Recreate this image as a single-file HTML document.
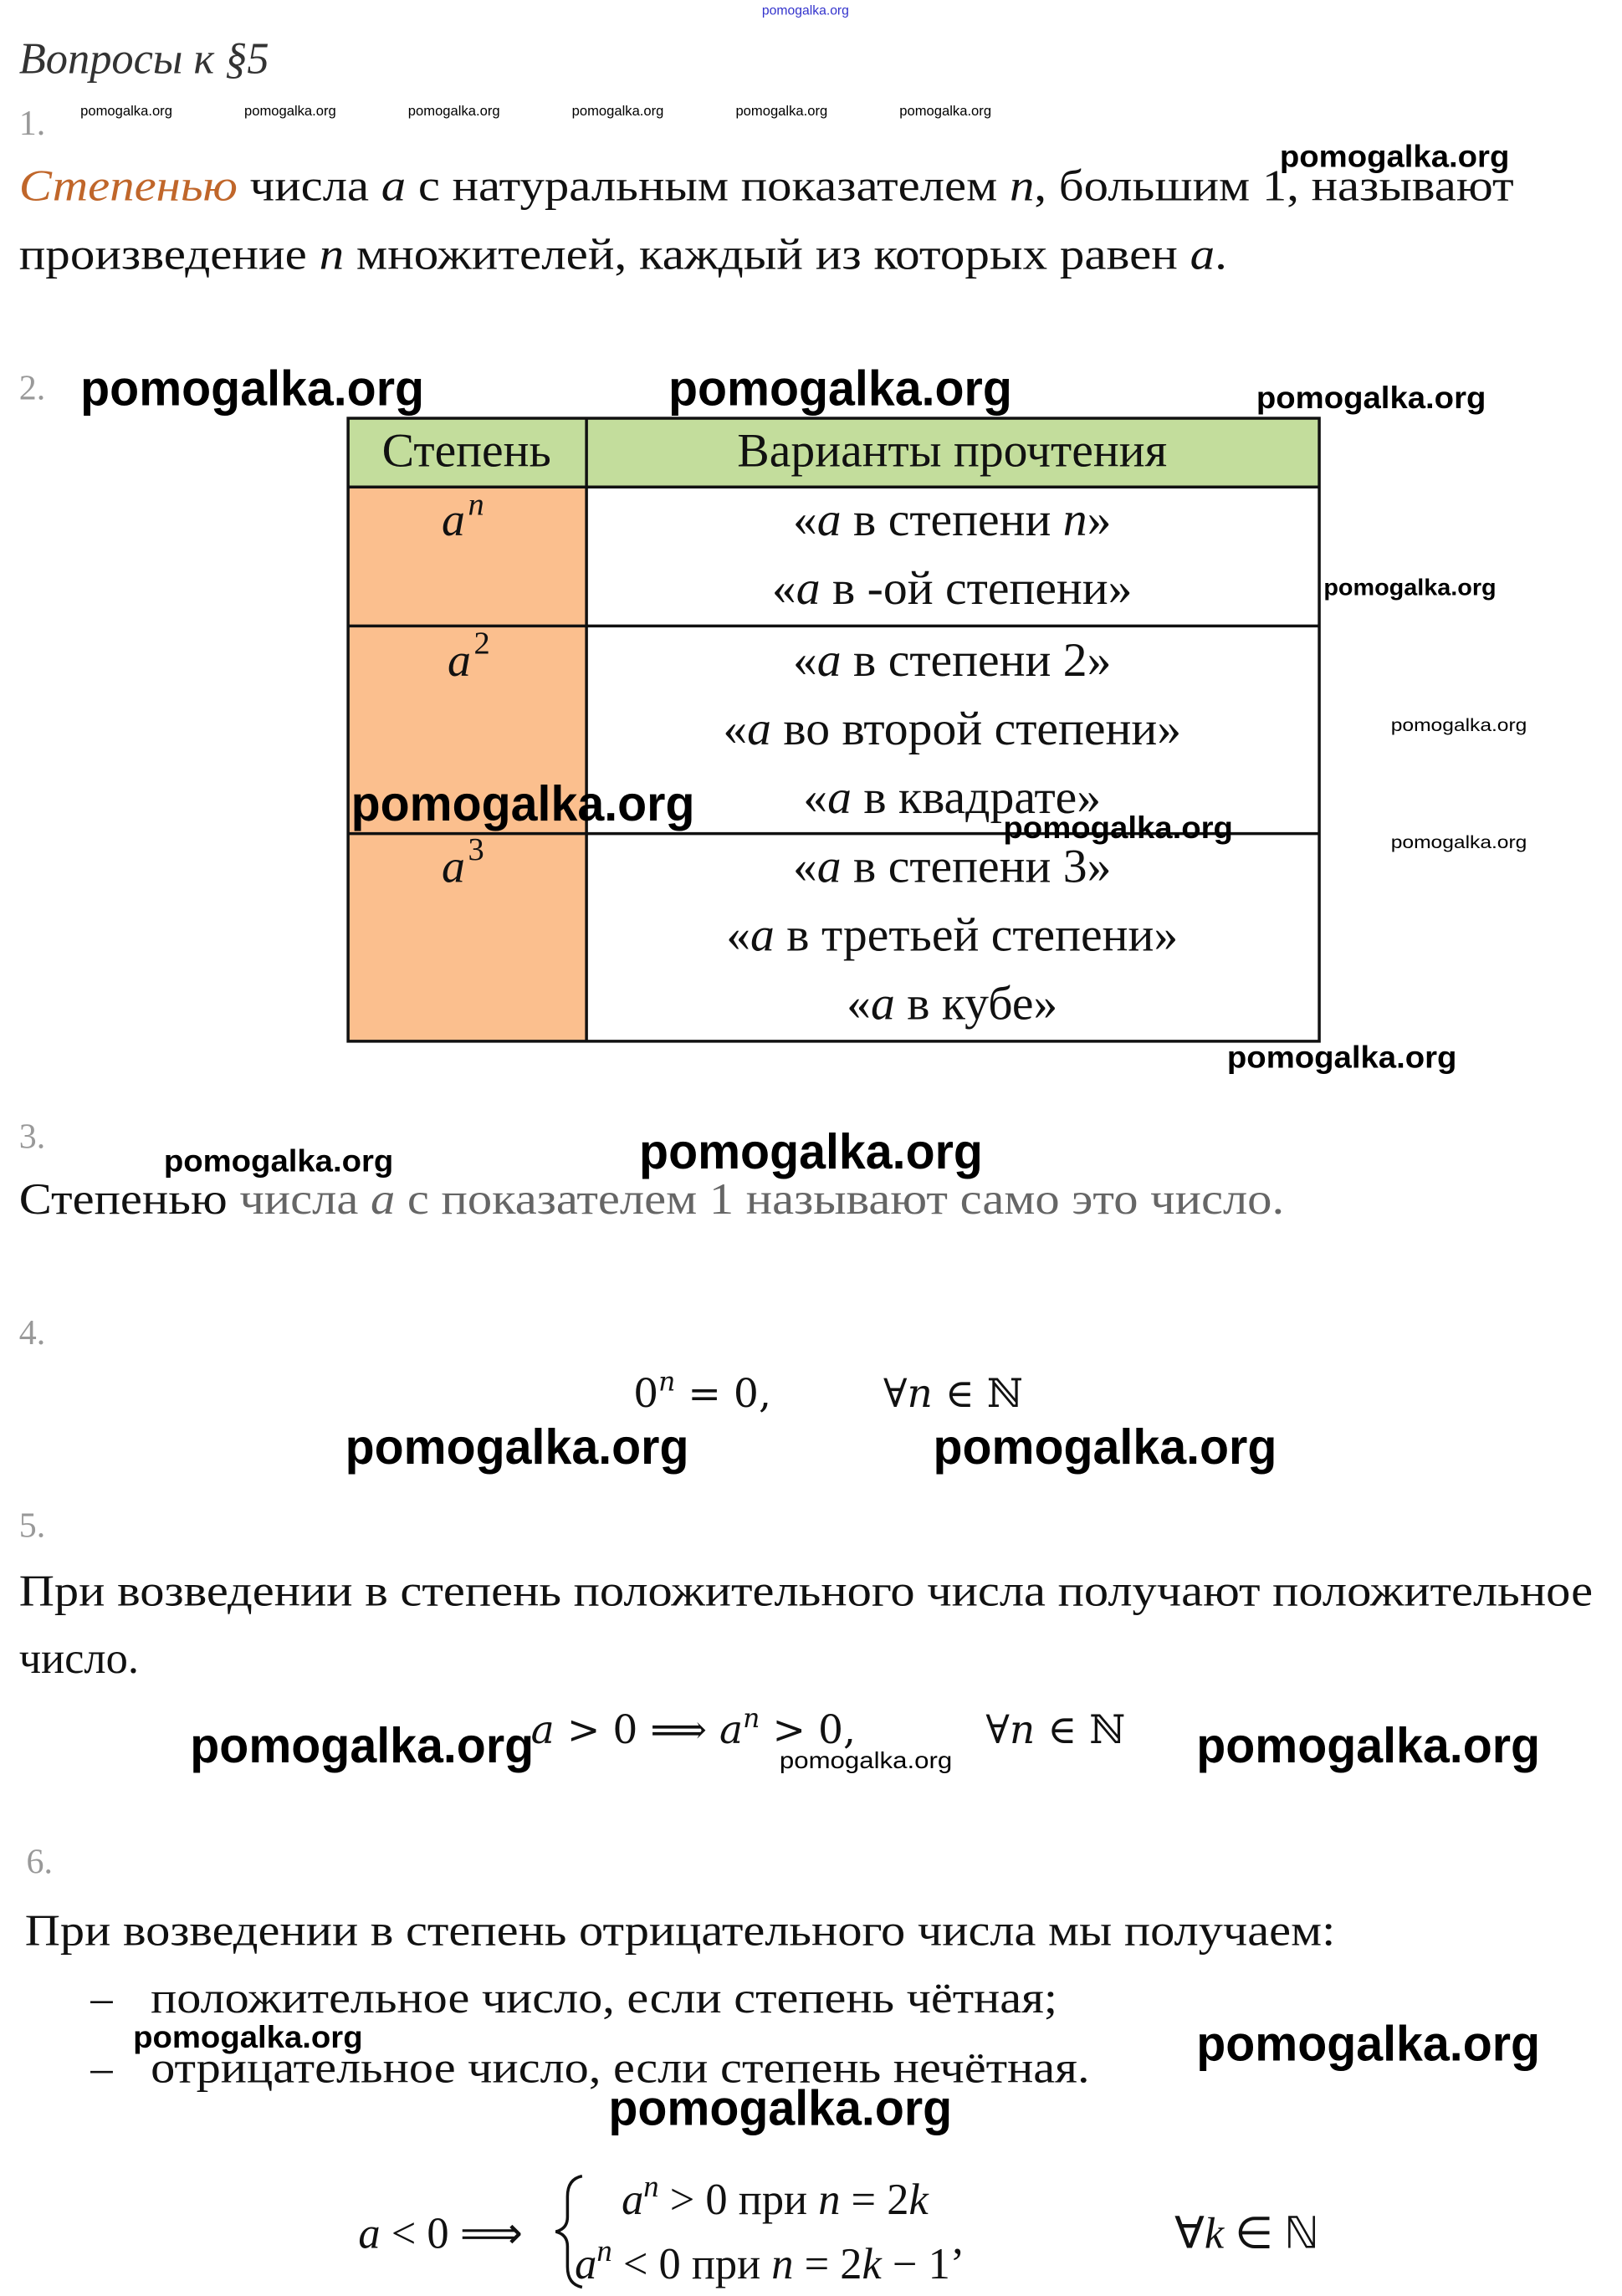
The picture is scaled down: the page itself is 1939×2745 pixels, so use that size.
<!DOCTYPE html>
<html><head><meta charset="utf-8"><style>
html,body{margin:0;padding:0;background:#fff;width:1939px;height:2745px;overflow:hidden}
svg{display:block}
.s{font-family:"Liberation Serif",serif;font-size:30px;fill:#111}
.t{font-family:"Liberation Serif",serif;font-size:33px;fill:#111}
.m{font-family:"Liberation Serif",serif;font-style:italic;font-size:30px;fill:#111}
.w{font-family:"Liberation Sans",sans-serif;font-weight:bold;fill:#000}
.n{font-family:"Liberation Serif",serif;font-size:24px;fill:#999}
.f{font-family:"DejaVu Serif",serif;font-size:27px;fill:#111}
</style></head><body>
<svg width="1939" height="2745" viewBox="0 0 1109 1570" preserveAspectRatio="none" xmlns="http://www.w3.org/2000/svg">
<text x="521" y="10" class="w" style="font-size:9px;fill:#33c;font-weight:normal">pomogalka.org</text>
<text x="13" y="50" class="m" style="fill:#333">Вопросы к §5</text>
<text x="13" y="92" class="n">1.</text>
<g class="w" style="font-size:9.5px;font-weight:normal">
<text x="55" y="79">pomogalka.org</text><text x="167" y="79">pomogalka.org</text><text x="279" y="79">pomogalka.org</text>
<text x="391" y="79">pomogalka.org</text><text x="503" y="79">pomogalka.org</text><text x="615" y="79">pomogalka.org</text>
</g>
<text x="13" y="137" class="s" textLength="1022" lengthAdjust="spacingAndGlyphs"><tspan style="fill:#c0662a;font-style:italic">Степенью</tspan> числа <tspan font-style="italic">a</tspan> с натуральным показателем <tspan font-style="italic">n</tspan>, большим 1, называют</text>
<text x="875" y="114" class="w" style="font-size:21px" textLength="157" lengthAdjust="spacingAndGlyphs">pomogalka.org</text>
<text x="13" y="184" class="s" textLength="826" lengthAdjust="spacingAndGlyphs">произведение <tspan font-style="italic">n</tspan> множителей, каждый из которых равен <tspan font-style="italic">a</tspan>.</text>

<text x="13" y="273" class="n">2.</text>
<g class="w" style="font-size:34px">
<text x="55" y="277" textLength="235" lengthAdjust="spacingAndGlyphs">pomogalka.org</text>
<text x="457" y="277" textLength="235" lengthAdjust="spacingAndGlyphs">pomogalka.org</text>
</g>
<text x="859" y="279" class="w" style="font-size:21px" textLength="157" lengthAdjust="spacingAndGlyphs">pomogalka.org</text>

<rect x="238" y="286" width="664" height="47" fill="#c3dd9c"/>
<rect x="238" y="333" width="163" height="379" fill="#fbbf8e"/>
<g stroke="#111" stroke-width="2" fill="none">
<rect x="238" y="286" width="664" height="426"/>
<line x1="401" y1="286" x2="401" y2="712"/>
<line x1="238" y1="333" x2="902" y2="333"/>
<line x1="238" y1="428" x2="902" y2="428"/>
<line x1="238" y1="570" x2="902" y2="570"/>
</g>
<g class="t" text-anchor="middle">
<text x="319" y="319">Степень</text>
<text x="651" y="319">Варианты прочтения</text>
<text x="651" y="366">«<tspan font-style="italic">a</tspan> в степени <tspan font-style="italic">n</tspan>»</text>
<text x="651" y="413">«<tspan font-style="italic">a</tspan> в -ой степени»</text>
<text x="651" y="462">«<tspan font-style="italic">a</tspan> в степени 2»</text>
<text x="651" y="509">«<tspan font-style="italic">a</tspan> во второй степени»</text>
<text x="651" y="556">«<tspan font-style="italic">a</tspan> в квадрате»</text>
<text x="651" y="603">«<tspan font-style="italic">a</tspan> в степени 3»</text>
<text x="651" y="650">«<tspan font-style="italic">a</tspan> в третьей степени»</text>
<text x="651" y="697">«<tspan font-style="italic">a</tspan> в кубе»</text>
</g>
<g class="m">
<text x="302" y="366" style="font-size:32px">a</text><text x="320" y="352" style="font-size:22px">n</text>
<text x="306" y="462" style="font-size:32px">a</text><text x="324" y="447" style="font-size:22px;font-style:normal">2</text>
<text x="302" y="603" style="font-size:32px">a</text><text x="320" y="588" style="font-size:22px;font-style:normal">3</text>
</g>
<text x="905" y="407" class="w" style="font-size:16px" textLength="118" lengthAdjust="spacingAndGlyphs">pomogalka.org</text>
<text x="951" y="500" class="w" style="font-size:12px;font-weight:normal" textLength="93" lengthAdjust="spacingAndGlyphs">pomogalka.org</text>
<text x="240" y="561" class="w" style="font-size:34px" textLength="235" lengthAdjust="spacingAndGlyphs">pomogalka.org</text>
<text x="686" y="573" class="w" style="font-size:21px" textLength="157" lengthAdjust="spacingAndGlyphs">pomogalka.org</text>
<text x="951" y="580" class="w" style="font-size:12px;font-weight:normal" textLength="93" lengthAdjust="spacingAndGlyphs">pomogalka.org</text>
<text x="839" y="730" class="w" style="font-size:21px" textLength="157" lengthAdjust="spacingAndGlyphs">pomogalka.org</text>

<text x="13" y="785" class="n">3.</text>
<text x="13" y="830" class="s" textLength="865" lengthAdjust="spacingAndGlyphs">Степенью <tspan style="fill:#666">числа <tspan font-style="italic">a</tspan> с показателем 1 называют само это число.</tspan></text>
<text x="112" y="801" class="w" style="font-size:21px" textLength="157" lengthAdjust="spacingAndGlyphs">pomogalka.org</text>
<text x="437" y="799" class="w" style="font-size:34px" textLength="235" lengthAdjust="spacingAndGlyphs">pomogalka.org</text>

<text x="13" y="919" class="n">4.</text>
<text x="433" y="962" class="f">0<tspan dy="-11" font-size="18" font-style="italic">n</tspan><tspan dy="11"> = 0,</tspan></text>
<text x="604" y="962" class="f">∀<tspan font-style="italic">n</tspan> ∈ ℕ</text>
<text x="236" y="1001" class="w" style="font-size:34px" textLength="235" lengthAdjust="spacingAndGlyphs">pomogalka.org</text>
<text x="638" y="1001" class="w" style="font-size:34px" textLength="235" lengthAdjust="spacingAndGlyphs">pomogalka.org</text>

<text x="13" y="1051" class="n">5.</text>
<text x="13" y="1098" class="s" textLength="1076" lengthAdjust="spacingAndGlyphs">При возведении в степень положительного числа получают положительное</text>
<text x="13" y="1144" class="s">число.</text>
<text x="363" y="1192" class="f"><tspan font-style="italic">a</tspan> &gt; 0 ⟹ <tspan font-style="italic">a</tspan><tspan dy="-11" font-size="18" font-style="italic">n</tspan><tspan dy="11"> &gt; 0,</tspan></text>
<text x="674" y="1192" class="f">∀<tspan font-style="italic">n</tspan> ∈ ℕ</text>
<text x="130" y="1205" class="w" style="font-size:34px" textLength="235" lengthAdjust="spacingAndGlyphs">pomogalka.org</text>
<text x="533" y="1209" class="w" style="font-size:16px;font-weight:normal" textLength="118" lengthAdjust="spacingAndGlyphs">pomogalka.org</text>
<text x="818" y="1205" class="w" style="font-size:34px" textLength="235" lengthAdjust="spacingAndGlyphs">pomogalka.org</text>

<text x="18" y="1281" class="n">6.</text>
<text x="17" y="1330" class="s" textLength="896" lengthAdjust="spacingAndGlyphs">При возведении в степень отрицательного числа мы получаем:</text>
<text x="62" y="1376" class="s">–</text>
<text x="103" y="1376" class="s" textLength="620" lengthAdjust="spacingAndGlyphs">положительное число, если степень чётная;</text>
<text x="62" y="1424" class="s">–</text>
<text x="103" y="1424" class="s" textLength="642" lengthAdjust="spacingAndGlyphs">отрицательное число, если степень нечётная.</text>
<text x="91" y="1400" class="w" style="font-size:21px" textLength="157" lengthAdjust="spacingAndGlyphs">pomogalka.org</text>
<text x="818" y="1409" class="w" style="font-size:34px" textLength="235" lengthAdjust="spacingAndGlyphs">pomogalka.org</text>
<text x="416" y="1453" class="w" style="font-size:34px" textLength="235" lengthAdjust="spacingAndGlyphs">pomogalka.org</text>

<g style="font-family:'Liberation Serif',serif;font-size:30px;fill:#111">
<text x="245" y="1537"><tspan font-style="italic">a</tspan> &lt; 0 ⟹</text>
<path d="M398 1488 q-10 2 -10 14 v14 q0 8 -8 10 q8 2 8 10 v14 q0 12 10 14" stroke="#111" stroke-width="2" fill="none"/>
<text x="425" y="1514"><tspan font-style="italic">a</tspan><tspan dy="-12" font-size="21" font-style="italic">n</tspan><tspan dy="12"> &gt; 0 при </tspan><tspan font-style="italic">n</tspan> = 2<tspan font-style="italic">k</tspan></text>
<text x="393" y="1558"><tspan font-style="italic">a</tspan><tspan dy="-12" font-size="21" font-style="italic">n</tspan><tspan dy="12"> &lt; 0 при </tspan><tspan font-style="italic">n</tspan> = 2<tspan font-style="italic">k</tspan> − 1’</text>
<text x="803" y="1537">∀<tspan font-style="italic">k</tspan> ∈ ℕ</text>
</g>
</svg>
</body></html>
